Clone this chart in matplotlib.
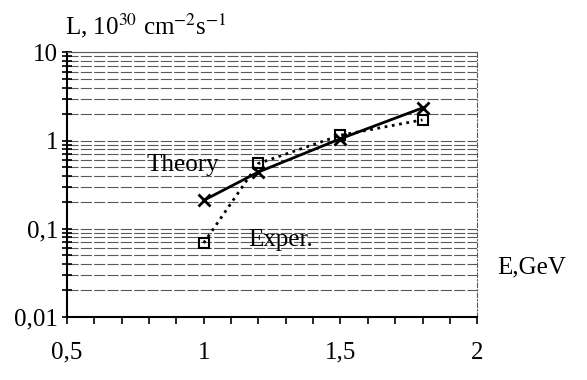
import matplotlib
matplotlib.use("Agg")
from matplotlib import pyplot as plt
from matplotlib.ticker import FixedLocator, FixedFormatter, LogLocator, NullFormatter

plt.rcParams['font.family'] = ['Liberation Serif', 'DejaVu Serif']
plt.rcParams['mathtext.fontset'] = 'stix'

# data
energy = [1.0, 1.2, 1.5, 1.8]
theory = [0.21, 0.44, 1.05, 2.35]
exper = [0.069, 0.55, 1.15, 1.72]

x_ticks = [0.5, 1.0, 1.5, 2.0]
x_labels = ['0,5', '1', '1,5', '2']
y_ticks = [0.01, 0.1, 1, 10]
y_labels = ['0,01', '0,1', '1', '10']

fig = plt.figure(figsize=(5.87, 3.80), dpi=100)
ax = fig.add_axes([0.114, 0.166, 0.699, 0.696])

ax.set_yscale('log')
ax.set_xlim(0.5, 2.0)
ax.set_ylim(0.01, 10)

# horizontal grid at every decade step
ax.yaxis.set_major_locator(FixedLocator(y_ticks))
ax.yaxis.set_major_formatter(FixedFormatter(y_labels))
ax.yaxis.set_minor_locator(LogLocator(base=10, subs=range(2, 10)))
ax.yaxis.set_minor_formatter(NullFormatter())
ax.grid(True, which='both', axis='y', color='0.35', lw=0.8, ls=(0, (10, 2)))
ax.set_axisbelow(True)

ax.xaxis.set_major_locator(FixedLocator(x_ticks))
ax.xaxis.set_major_formatter(FixedFormatter(x_labels))
ax.xaxis.set_minor_locator(FixedLocator([0.5 + 0.1 * i for i in range(16)]))

ax.plot(energy, theory, color='black', lw=2, marker='x', ms=9, mew=2)
ax.plot(energy, exper, color='black', lw=2, ls=':', marker='s', ms=7,
        mfc='none', mew=1.5)

ax.text(0.925, 0.53, 'Theory', fontsize=18, ha='center', va='center')
ax.text(1.28, 0.075, 'Exper.', fontsize=18, ha='center', va='center')

fig.text(0.11, 0.932, r'L, 10$^{30}$ cm$^{-2}$s$^{-1}$', fontsize=18,
         ha='left', va='center')
fig.text(0.905, 0.295, 'E,GeV', fontsize=18, ha='center', va='center')

ax.tick_params(axis='both', which='major', labelsize=18)
ax.tick_params(axis='x', which='both', direction='out', length=5, width=1.2, pad=13)
ax.tick_params(axis='y', which='both', direction='inout', length=7, width=1.2, pad=3)

for side in ['left', 'bottom']:
    ax.spines[side].set_linewidth(1.5)
ax.spines['top'].set_color('0.35')
ax.spines['top'].set_linewidth(0.8)
ax.spines['right'].set_color('0.35')
ax.spines['right'].set_linestyle((0, (4, 2, 1, 2)))
ax.spines['right'].set_linewidth(0.8)

fig.savefig('out.png', dpi=100)
